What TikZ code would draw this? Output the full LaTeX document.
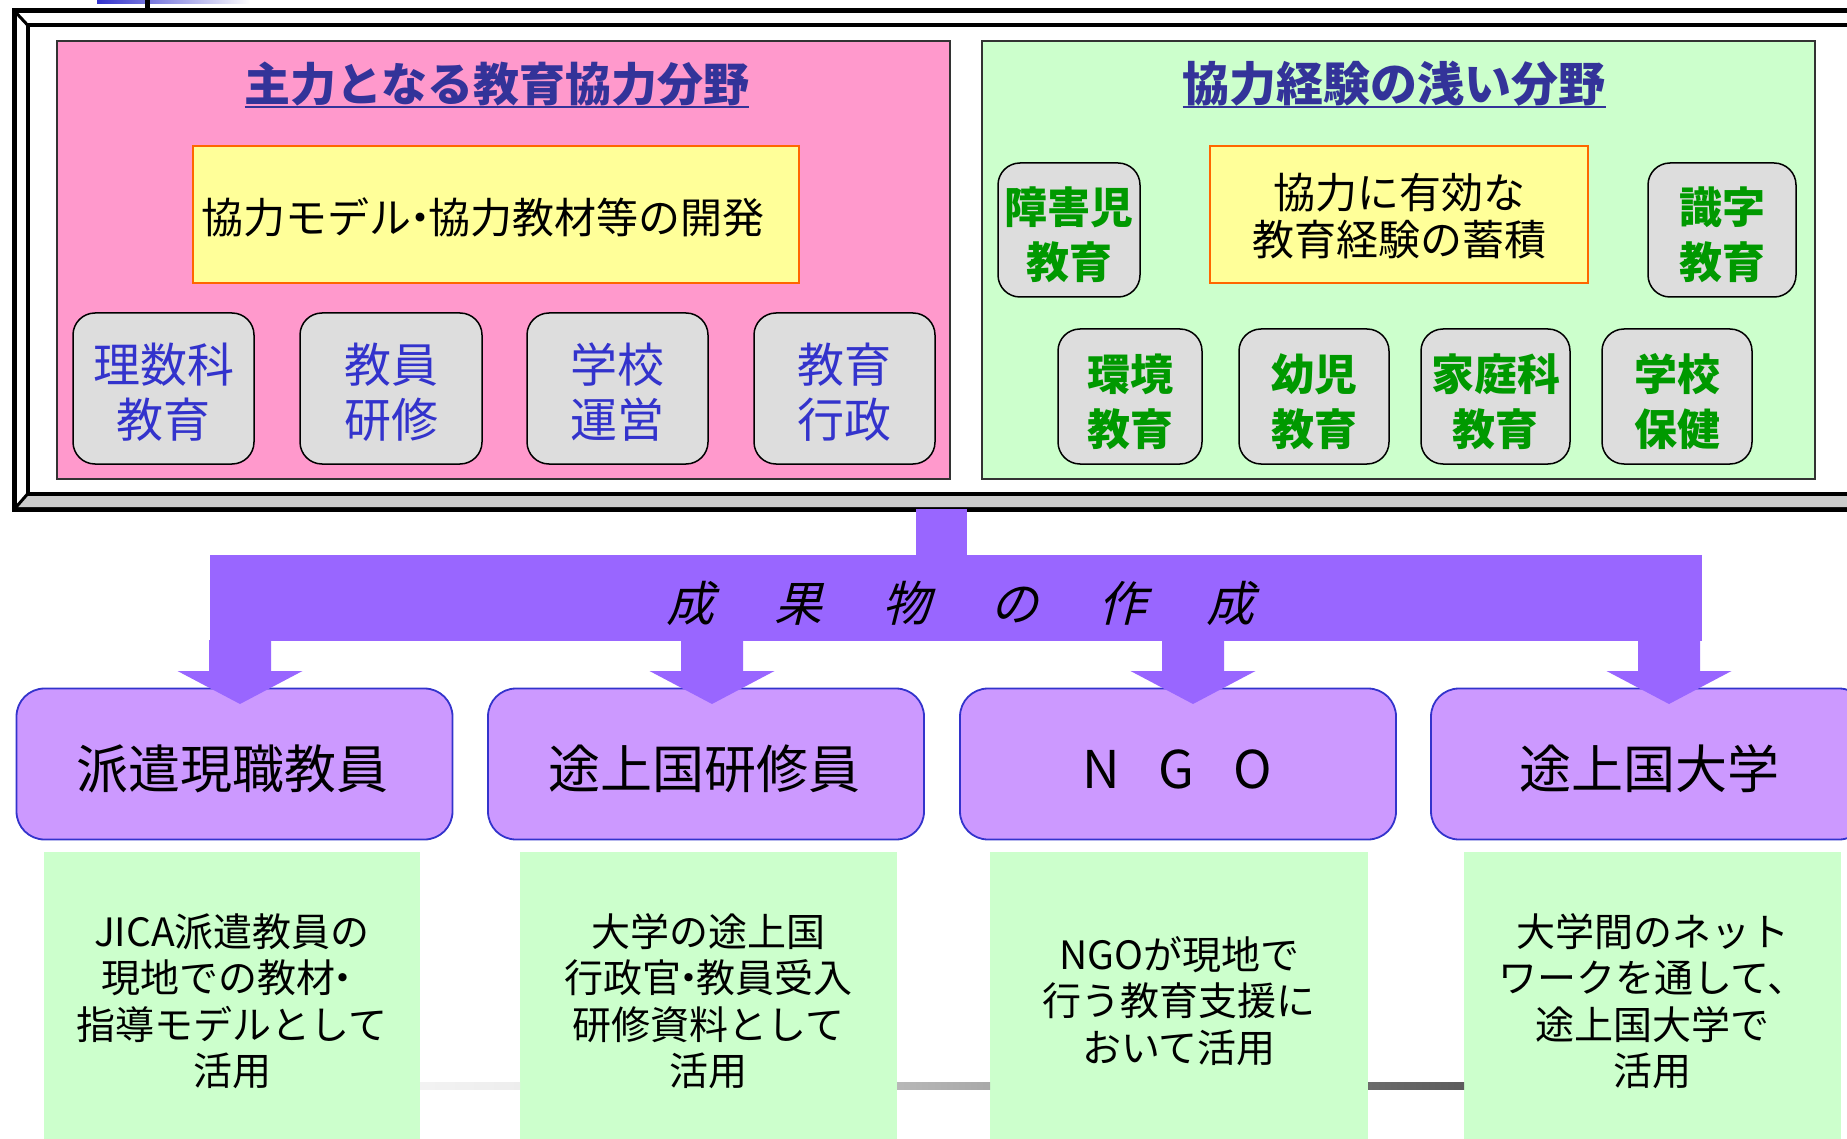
\documentclass[tikz,border=0pt]{standalone}
\usepackage{fontspec}
\setmainfont{Noto Sans CJK JP}
\newfontfamily\jpsl{Noto Sans CJK JP}[FakeSlant=0.25]
\definecolor{pinkbg}{HTML}{FF99CC}
\definecolor{greenbg}{HTML}{CCFFCC}
\definecolor{yellowbg}{HTML}{FFFF99}
\definecolor{orangeb}{HTML}{FF6600}
\definecolor{greybox}{HTML}{DDDDDD}
\definecolor{framegrey}{HTML}{CCCCCC}
\definecolor{titleblue}{HTML}{333399}
\definecolor{txtblue}{HTML}{3333CC}
\definecolor{txtgreen}{HTML}{009900}
\definecolor{barpurple}{HTML}{9966FF}
\definecolor{boxpurple}{HTML}{CC99FF}
\definecolor{purpleborder}{HTML}{3333CC}
\newcommand{\tightdot}{\hspace{-0.3em}・\hspace{-0.3em}}
\tikzset{
  pinkpanel/.style={fill=pinkbg, draw=black!80, line width=1.5pt},
  greenpanel/.style={fill=greenbg, draw=black!80, line width=1.5pt},
  yellowbox/.style={fill=yellowbg, draw=orangeb, line width=1.5pt},
  yellowtext/.style={align=center, font=\fontsize{42}{47}\selectfont},
  fieldbox/.style={fill=greybox, draw=black, line width=1.5pt, rounded corners=22pt},
  fieldLtext/.style={align=center, text=txtblue, font=\fontsize{47}{55}\selectfont},
  fieldRtext/.style={align=center, text=txtgreen, font=\fontsize{43}{55}\selectfont\bfseries},
  titletext/.style={text=titleblue, font=\fontsize{46}{50}\selectfont\bfseries},
  target/.style={fill=boxpurple, draw=purpleborder, line width=1.8pt, rounded corners=28pt, minimum width=436, minimum height=151},
  targettext/.style={font=\fontsize{52}{60}\selectfont},
  usebox/.style={fill=greenbg, minimum height=298, align=center, font=\fontsize{39}{46.5}\selectfont},
  purplefill/.style={fill=barpurple},
}
\begin{document}
\begin{tikzpicture}[x=1pt,y=-1pt, every node/.style={inner sep=0pt, outer sep=0pt}]
\clip (0,0) rectangle (1847,1139);
\fill[white] (0,0) rectangle (1847,1139);

% remnant at top
\shade[left color=txtblue, middle color=txtblue, right color=white] (97,0) rectangle (250,4);
\fill[black] (145,0) rectangle (150,8);

% bevel frame
\draw[line width=5pt, fill=white] (14,10.5) rectangle (1900,509.5);
\fill[framegrey] (16,507) -- (27.5,494) -- (1900,494) -- (1900,507) -- cycle;
\draw[line width=4pt] (27.5,25) rectangle (1890,494);
\draw[line width=3pt] (14,10.5) -- (27.5,25);
\draw[line width=3pt] (14,509.5) -- (27.5,494);

% panels
\node[pinkpanel, minimum width=893, minimum height=438] (pink) at (503.5,260) {};
\node[greenpanel, minimum width=833, minimum height=438] (green) at (1398.5,260) {};

% titles
\node[titletext] (t1) at (497,84) {主力となる教育協力分野};
\node[titletext, font=\fontsize{47}{50}\selectfont\bfseries] (t2) at (1394,84) {協力経験の浅い分野};
\draw[titleblue, line width=2.5pt] (t1.west |- 0,107) -- (t1.east |- 0,107);
\draw[titleblue, line width=2.5pt] (t2.west |- 0,107) -- (t2.east |- 0,107);

% yellow boxes
\node[yellowbox, minimum width=606, minimum height=137] (y1) at (496,214.5) {};
\node[yellowtext] (y1t) at (483,217) {協力モデル\tightdot 協力教材等の開発};
\node[yellowbox, minimum width=378, minimum height=137] (y2) at (1399,214.5) {};
\node[yellowtext] (y2t) at ([yshift=-2pt]y2.center) {協力に有効な\\教育経験の蓄積};

% left fields
\node[fieldbox, minimum width=181, minimum height=151] (f1) at (163.5,388.5) {};
\node[fieldbox, minimum width=182, minimum height=151] (f2) at (391,388.5) {};
\node[fieldbox, minimum width=181, minimum height=151] (f3) at (617.5,388.5) {};
\node[fieldbox, minimum width=181, minimum height=151] (f4) at (844.5,388.5) {};
\node[fieldLtext] (f1t) at ([yshift=-4pt]f1.center) {理数科\\教育};
\node[fieldLtext] (f2t) at ([yshift=-4pt]f2.center) {教員\\研修};
\node[fieldLtext] (f3t) at ([yshift=-4pt]f3.center) {学校\\運営};
\node[fieldLtext] (f4t) at ([yshift=-4pt]f4.center) {教育\\行政};

% right fields
\node[fieldbox, minimum width=142, minimum height=134] (r1) at (1069,230) {};
\node[fieldbox, minimum width=148, minimum height=134] (r2) at (1722,230) {};
\node[fieldbox, minimum width=144, minimum height=135] (r3) at (1130,396.5) {};
\node[fieldbox, minimum width=150, minimum height=135] (r4) at (1314,396.5) {};
\node[fieldbox, minimum width=149, minimum height=135] (r5) at (1495.5,396.5) {};
\node[fieldbox, minimum width=150, minimum height=135] (r6) at (1677,396.5) {};
\node[fieldRtext] (r1t) at ([yshift=-5pt]r1.center) {障害児\\教育};
\node[fieldRtext] (r2t) at ([yshift=-5pt]r2.center) {識字\\教育};
\node[fieldRtext] (r3t) at ([yshift=-5pt]r3.center) {環境\\教育};
\node[fieldRtext] (r4t) at ([yshift=-5pt]r4.center) {幼児\\教育};
\node[fieldRtext] (r5t) at ([yshift=-5pt]r5.center) {家庭科\\教育};
\node[fieldRtext] (r6t) at ([yshift=-5pt]r6.center) {学校\\保健};

% purple bar
\fill[barpurple] (916,509) rectangle (967,556);
\node[purplefill, minimum width=1492, minimum height=86] (bar) at (956,598) {};
\node[font=\jpsl\fontsize{48}{48}\selectfont] (bartext) at (960,603) {成\hspace{60pt}果\hspace{60pt}物\hspace{60pt}の\hspace{60pt}作\hspace{60pt}成};

% target boxes
\node[target] (b1) at (234.5,764) {};
\node[target] (b2) at (706,764) {};
\node[target] (b3) at (1178,764) {};
\node[target] (b4) at (1649,764) {};
\node[targettext] (b1t) at (232,769) {派遣現職教員};
\node[targettext] (b2t) at (704,769) {途上国研修員};
\node[targettext] (b3t) at (1177,769) {N\hspace{0.75em}G\hspace{0.75em}O};
\node[targettext] (b4t) at (1649,769) {途上国大学};

% arrows
\foreach \cx in {240,712,1193,1669}{
  \fill[barpurple] (\cx-31,640) -- (\cx+31,640) -- (\cx+31,671) -- (\cx+62.5,671)
     -- (\cx,704) -- (\cx-62.5,671) -- (\cx-31,671) -- cycle;
}

% usage boxes
\node[usebox, minimum width=376] (u1) at (232,1001) {JICA派遣教員の\\現地での教材\tightdot\hspace{0.3em}\\指導モデルとして\\活用};
\node[usebox, minimum width=377] (u2) at (708.5,1001) {大学の途上国\\行政官\tightdot 教員受入\\研修資料として\\活用};
\node[usebox, minimum width=378] (u3) at (1179,1001) {NGOが現地で\\行う教育支援に\\おいて活用};
\node[usebox, minimum width=377] (u4) at (1652.5,1001) {大学間のネット\\ワークを通して、\\途上国大学で\\活用};

% grey connector strips
\shade[left color=black!5, right color=black!7] (u1.east |- 0,1082) rectangle (u2.west |- 0,1089);
\shade[left color=black!28, right color=black!34] (u2.east |- 0,1082) rectangle (u3.west |- 0,1089);
\shade[left color=black!58, right color=black!64] (u3.east |- 0,1082) rectangle (u4.west |- 0,1089);
\end{tikzpicture}
\end{document}
